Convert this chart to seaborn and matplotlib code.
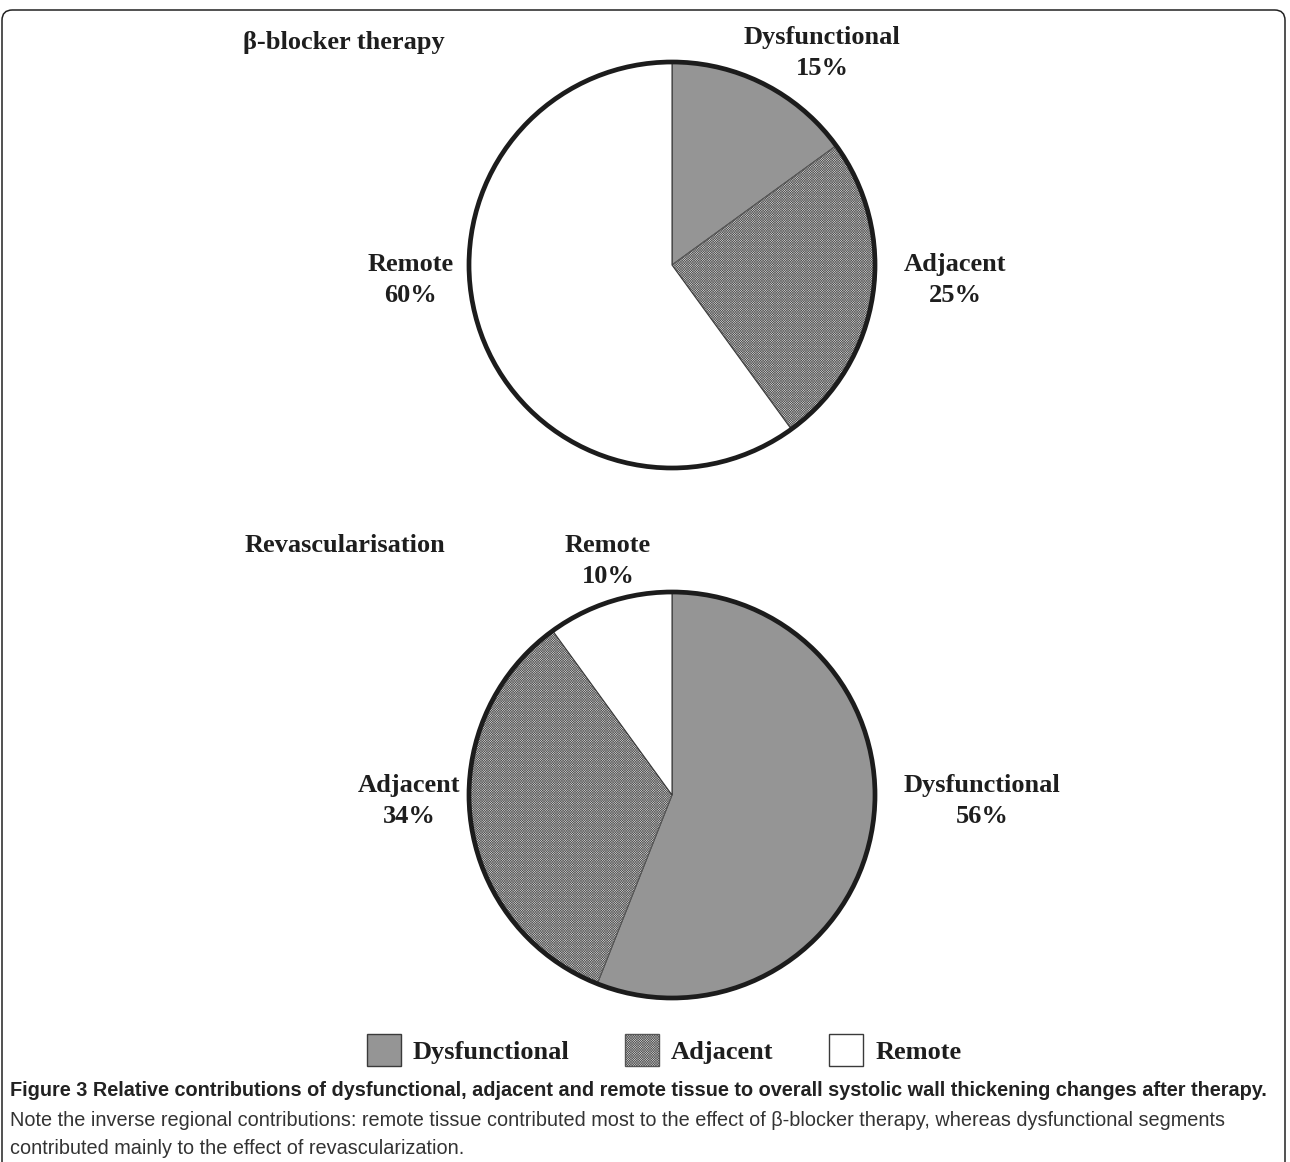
import matplotlib
matplotlib.use('Agg')
import matplotlib.pyplot as plt
from matplotlib.patches import Circle, Patch, FancyBboxPatch
import seaborn as sns

categories = ['Dysfunctional', 'Adjacent', 'Remote']
beta_blocker = [15, 25, 60]
revasc = [56, 34, 10]
panel_titles = ['\u03b2-blocker therapy', 'Revascularisation']

colors = ['#959595', '#d2d2d2', '#ffffff']
hatches = [None, 'x' * 14, None]
edges = ['#3a3a3a', '#555555', '#3a3a3a']

sns.set_theme(style='white')
plt.rcParams['font.family'] = ['Liberation Serif', 'DejaVu Serif']
plt.rcParams['hatch.linewidth'] = 0.4

W, H = 1290, 1162
fig = plt.figure(figsize=(W / 100, H / 100), dpi=100)
R = 203


def pie_axes(cx, cy):
    return fig.add_axes([(cx - R) / W, (H - cy - R) / H, 2 * R / W, 2 * R / H])


def draw_pie(ax, values):
    wedges, _ = ax.pie(values, colors=colors, startangle=90, counterclock=False,
                       radius=1, wedgeprops=dict(linewidth=0.8))
    for w, h, e in zip(wedges, hatches, edges):
        w.set_edgecolor(e)
        if h:
            w.set_hatch(h)
    ring = Circle((0, 0), 1, fill=False, lw=3.4, ec='#1c1c1c', zorder=5)
    ring.set_clip_on(False)
    ax.add_patch(ring)
    ax.set_xlim(-1, 1)
    ax.set_ylim(-1, 1)
    ax.set_aspect('equal')
    ax.axis('off')


lab_kw = dict(fontsize=19, fontweight='bold', ha='center', va='center',
              color='#1e1e1e', clip_on=False, linespacing=1.42)

ax1 = pie_axes(672, 265)
draw_pie(ax1, beta_blocker)
ax1.text(0.74, 1.044, f'{categories[0]}\n{beta_blocker[0]}%', **lab_kw)
ax1.text(1.394, -0.074, f'{categories[1]}\n{beta_blocker[1]}%', **lab_kw)
ax1.text(-1.286, -0.074, f'{categories[2]}\n{beta_blocker[2]}%', **lab_kw)

ax2 = pie_axes(672, 795)
draw_pie(ax2, revasc)
ax2.text(1.527, -0.03, f'{categories[0]}\n{revasc[0]}%', **lab_kw)
ax2.text(-1.296, -0.03, f'{categories[1]}\n{revasc[1]}%', **lab_kw)
ax2.text(-0.315, 1.153, f'{categories[2]}\n{revasc[2]}%', **lab_kw)

fig.text(243 / W, 1 - 43 / H, panel_titles[0], fontsize=19, fontweight='bold',
         ha='left', va='center', color='#1e1e1e')
fig.text(245 / W, 1 - 545 / H, panel_titles[1], fontsize=19, fontweight='bold',
         ha='left', va='center', color='#1e1e1e')

handles = [Patch(facecolor=c, edgecolor=e, hatch=h, linewidth=1.0)
           for c, h, e in zip(colors, hatches, edges)]
leg = fig.legend(handles, categories, loc='center', bbox_to_anchor=(664 / W, 1 - 1050 / H),
                 ncol=3, frameon=False, handlelength=1.3, handleheight=1.45,
                 handletextpad=0.45, columnspacing=2.1,
                 prop=dict(family='Liberation Serif', weight='bold', size=19))
for t in leg.get_texts():
    t.set_color('#1e1e1e')

cap_font = ['Liberation Sans', 'DejaVu Sans']
fig.text(10 / W, 1 - 1091 / H,
         'Figure 3 Relative contributions of dysfunctional, adjacent and remote tissue '
         'to overall systolic wall thickening changes after therapy.',
         family=cap_font, fontweight='bold', fontsize=14.3, ha='left', va='center',
         color='#222222')
fig.text(10 / W, 1 - 1121 / H,
         'Note the inverse regional contributions: remote tissue contributed most to the '
         'effect of \u03b2-blocker therapy, whereas dysfunctional segments',
         family=cap_font, fontsize=14.3, ha='left', va='center', color='#333333')
fig.text(10 / W, 1 - 1148 / H,
         'contributed mainly to the effect of revascularization.',
         family=cap_font, fontsize=14.3, ha='left', va='center', color='#333333')

frame = FancyBboxPatch((2 / W, -0.1), 1283 / W, 1.1 - 10 / H,
                       boxstyle='round,pad=0,rounding_size=0.008',
                       mutation_aspect=W / H, transform=fig.transFigure,
                       fill=False, ec='#222222', lw=1.1)
fig.patches.append(frame)

fig.savefig('out.png', dpi=100)
